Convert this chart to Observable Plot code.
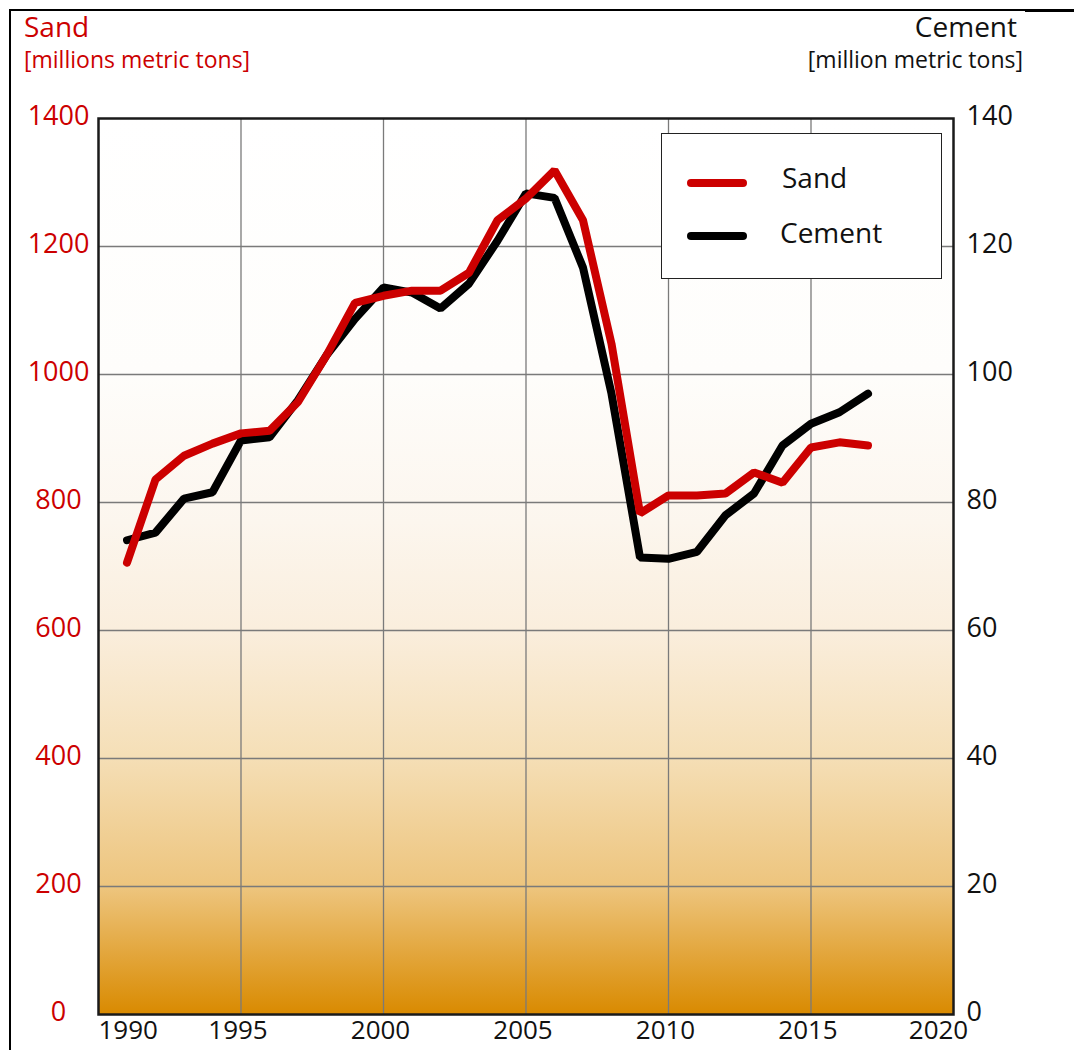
<!DOCTYPE html>
<html>
<head>
<meta charset="utf-8">
<script src="https://cdn.jsdelivr.net/npm/d3@7"></script>
<script src="https://cdn.jsdelivr.net/npm/@observablehq/plot@0.6"></script>
<style>
  html, body { margin: 0; padding: 0; background: #fff; }
  #wrap { position: relative; width: 1074px; height: 1050px; overflow: hidden; font-family: "Open Sans", sans-serif; }
  #chart { position: absolute; left: 0; top: 0; }
  .t { position: absolute; line-height: 1; white-space: nowrap; }
  .ln { position: absolute; }
</style>
</head>
<body>
<div id="wrap">
  <div id="chart"></div>
  <div class="ln" style="left:9px;top:9px;width:2px;height:1041px;background:#000"></div>
  <div class="ln" style="left:9px;top:9px;width:1016px;height:1.5px;background:#000"></div>
  <div class="ln" style="left:1025px;top:9px;width:49px;height:3px;background:#000"></div>
  <div class="t" style="left:24px;top:12px;font-size:28px;color:#cc0000">Sand</div>
  <div class="t" style="left:24px;top:48px;font-size:23px;color:#cc0000">[millions metric tons]</div>
  <div class="t" style="right:57px;top:12px;font-size:28px;color:#111">Cement</div>
  <div class="t" style="right:51px;top:48px;font-size:23px;color:#111">[million metric tons]</div>
  <div id="legend" style="position:absolute;left:661px;top:133px;width:279px;height:144px;border:1.5px solid #222;background:#fff">
    <div class="ln" style="left:25px;top:45px;width:60px;height:8px;border-radius:4px;background:#cc0000"></div>
    <div class="ln" style="left:25px;top:98px;width:60px;height:8px;border-radius:4px;background:#000"></div>
    <div class="t" style="left:120px;top:29px;font-size:28px;color:#111">Sand</div>
    <div class="t" style="left:118px;top:84px;font-size:28px;color:#111">Cement</div>
  </div>
</div>
<script>
// ---- data ----
const years = [1991,1992,1993,1994,1995,1996,1997,1998,1999,2000,2001,2002,2003,2004,2005,2006,2007,2008,2009,2010,2011,2012,2013,2014,2015,2016,2017];
const sand = [706,836,873,892,908,912,957,1030,1112,1123,1131,1131,1159,1241,1275,1319,1241,1048,783,811,811,814,847,831,886,894,889];
const cement = [74.1,75.3,80.6,81.6,89.7,90.2,96.0,103.0,108.7,113.6,112.8,110.3,114.2,120.9,128.3,127.6,116.7,97.0,71.4,71.2,72.3,78.0,81.4,88.9,92.3,94.1,97.0];
const xTicks = [1990,1995,2000,2005,2010,2015,2020];
const sandTicks = [0,200,400,600,800,1000,1200,1400];
const cementTicks = [0,20,40,60,80,100,120,140];
const cementToSand = 10; // right axis is left axis / 10

const sandRows = years.map((y, i) => ({year: y, value: sand[i]}));
const cementRows = years.map((y, i) => ({year: y, value: cement[i] * cementToSand}));

const fmt = d => String(d);
const inner = xTicks.slice(1, -1);

const svg = Plot.plot({
  width: 1074,
  height: 1050,
  marginLeft: 98,
  marginRight: 121,
  marginTop: 118,
  marginBottom: 36,
  style: {fontFamily: "Open Sans, sans-serif", fontSize: "27px", background: "transparent", overflow: "visible"},
  x: {domain: [1990, 2020]},
  y: {domain: [0, 1400]},
  marks: [
    Plot.frame({fill: "url(#bgGrad)", stroke: null}),
    Plot.gridX({ticks: inner, stroke: "#7a7a7a", strokeOpacity: 1, strokeWidth: 1.3}),
    Plot.gridY({ticks: sandTicks.slice(1, -1), stroke: "#7a7a7a", strokeOpacity: 1, strokeWidth: 1.3}),
    Plot.line(cementRows, {x: "year", y: "value", stroke: "#000", strokeWidth: 8, strokeLinejoin: "miter", strokeLinecap: "round"}),
    Plot.line(sandRows, {x: "year", y: "value", stroke: "#cc0000", strokeWidth: 8, strokeLinejoin: "miter", strokeLinecap: "round"}),
    Plot.frame({stroke: "#1a1a1a", strokeWidth: 2.5}),
    Plot.axisX({ticks: [xTicks[0]], tickSize: 0, tickPadding: 6, textAnchor: "start", tickFormat: fmt, label: null, fill: "#111", fontSize: 26}),
    Plot.axisX({ticks: inner, tickSize: 0, tickPadding: 6, dx: -3, tickFormat: fmt, label: null, fill: "#111", fontSize: 26}),
    Plot.axisX({ticks: [xTicks[xTicks.length - 1]], tickSize: 0, tickPadding: 6, dx: -15, tickFormat: fmt, label: null, fill: "#111", fontSize: 26}),
    Plot.axisY({anchor: "left", ticks: sandTicks, tickSize: 0, tickPadding: 40, textAnchor: "middle", dy: -2, tickFormat: fmt, label: null, fill: "#cc0000"}),
    Plot.axisY({anchor: "right", ticks: cementTicks.map(d => d * cementToSand), tickSize: 0, tickPadding: 13, dy: -2, tickFormat: d => String(d / cementToSand), label: null, fill: "#111"})
  ]
});

const ns = "http://www.w3.org/2000/svg";
const defs = document.createElementNS(ns, "defs");
const grad = document.createElementNS(ns, "linearGradient");
grad.setAttribute("id", "bgGrad");
grad.setAttribute("x1", "0"); grad.setAttribute("y1", "0");
grad.setAttribute("x2", "0"); grad.setAttribute("y2", "1");
[["0%","#ffffff"],["28%","#fefdfb"],["45%","#fcf6ee"],["57%","#faeedd"],["71%","#f5dfb7"],["86%","#edc47c"],["100%","#d98a00"]].forEach(([o, c]) => {
  const s = document.createElementNS(ns, "stop");
  s.setAttribute("offset", o); s.setAttribute("stop-color", c);
  grad.appendChild(s);
});
defs.appendChild(grad);
svg.insertBefore(defs, svg.firstChild);
document.getElementById("chart").appendChild(svg);
</script>
</body>
</html>
